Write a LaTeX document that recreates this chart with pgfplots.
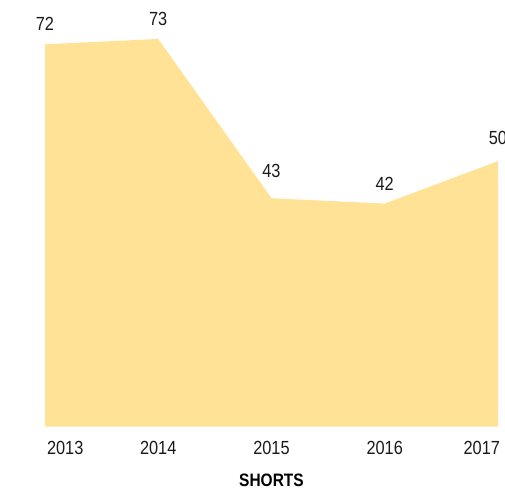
\documentclass[border=0pt]{standalone}
\usepackage{pgfplots}
\usepackage{pgfplotstable}
\pgfplotsset{compat=1.18}
\usepackage{fontspec}
\setmainfont[FakeStretch=0.86]{Liberation Sans}
\definecolor{AreaYellow}{HTML}{FFE295}
\definecolor{TextDark}{HTML}{1A1A1A}
\pgfplotsset{/pgf/number format/assume math mode=true}

% x = year index (2013..2017), y = value, dy = extra label lift
\pgfplotstableread{
x y dy
0 72 0
1 73 0
2 43 7
3 42 0
4 50 3
}\shorts

\begin{document}
\begin{tikzpicture}
\begin{axis}[
    scale only axis,
    width=453bp, height=424.8bp,
    xmin=0, xmax=4, ymin=0, ymax=80,
    clip=false,
    axis line style={draw=none},
    tick style={draw=none},
    ytick=\empty,
    xtick={0,1,2,3,4},
    xticklabels={{\makebox[0pt][l]{\hspace{2bp}2013}},2014,2015,2016,{\makebox[0pt][r]{2017\hspace{-2bp}}}},
    xticklabel style={font=\fontsize{19bp}{23bp}\selectfont, text=TextDark, anchor=north, yshift=-11bp},
    xlabel={\textbf{SHORTS}},
    xlabel style={font=\fontsize{18bp}{22bp}\selectfont, text=black, yshift=-13bp},
]
\addplot[fill=AreaYellow, draw=none] table[x=x, y=y] {\shorts} \closedcycle;
\addplot[draw=none, mark=none,
    visualization depends on={\thisrow{dy} \as \dy},
    nodes near coords,
    nodes near coords style={font=\fontsize{19bp}{23bp}\selectfont, text=TextDark, anchor=south, yshift=10bp+\dy bp}]
    table[x=x, y=y] {\shorts};
\coordinate (bl) at (rel axis cs:0,0);
\end{axis}
\pgfresetboundingbox
\path[use as bounding box] ([shift={(-45bp,-64.4bp)}]bl) rectangle ([shift={(460bp,426.6bp)}]bl);
\end{tikzpicture}
\end{document}
